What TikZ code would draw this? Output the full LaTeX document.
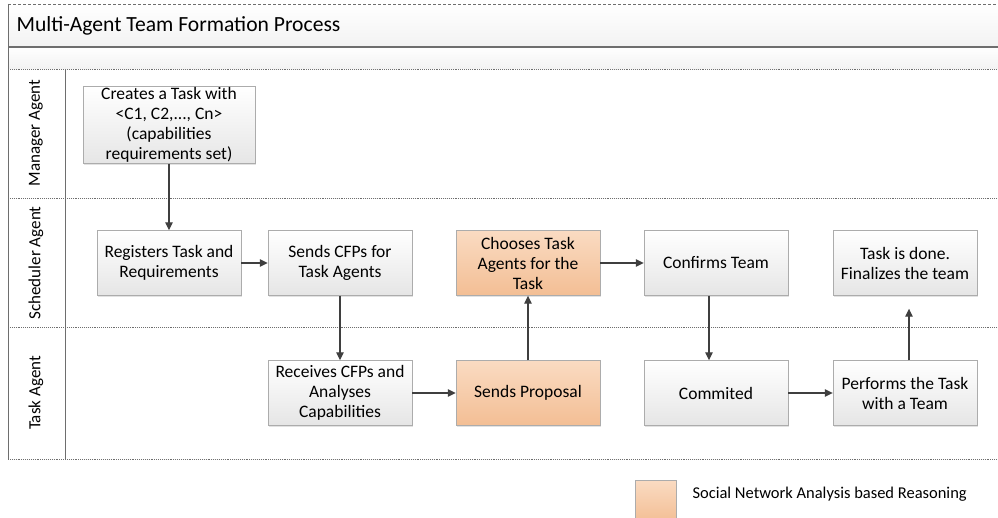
\documentclass[tikz,border=0pt]{standalone}
\usepackage{fontspec}
\setmainfont{Carlito}
\usetikzlibrary{arrows.meta,shadows}
\definecolor{framegray}{HTML}{6E6E6E}
\definecolor{arrowgray}{HTML}{3F3F3F}
\definecolor{snatop}{HTML}{FADBC2}
\definecolor{snabot}{HTML}{F3BE94}
\tikzstyle{box}=[draw=gray!65, top color=white, bottom color=gray!20, minimum width=144pt, minimum height=65pt, align=center, inner sep=1pt, font=\fontsize{17.5}{20}\selectfont, drop shadow={shadow xshift=1pt, shadow yshift=-1.2pt, fill=gray!45}]
\tikzstyle{snabox}=[box, top color=snatop, bottom color=snabot]
\tikzstyle{flow}=[draw=arrowgray, line width=1.2pt, -{Triangle[length=8pt,width=7.5pt]}]
\tikzstyle{lane}=[rotate=90, font=\fontsize{17}{20}\selectfont]

\begin{document}
\begin{tikzpicture}[x=1pt, y=-1pt]
\useasboundingbox (0,0) rectangle (998,518);
% title bands
\shade[top color=white, bottom color=gray!10] (8,4) rectangle (1002,47);
\shade[top color=white, bottom color=gray!10] (8,47) rectangle (1002,69);
\draw[framegray, densely dashed] (8,4) -- (1002,4);
\draw[framegray, line width=1.2pt] (8,47) -- (1002,47);
\foreach \y in {69,198,327,459}
  \draw[framegray, densely dotted, line width=0.9pt] (8,\y) -- (1002,\y);
\draw[framegray, line width=0.9pt] (8,4) -- (8,459);
\draw[framegray, line width=0.9pt] (65,69) -- (65,459);
\node[anchor=west, font=\fontsize{21.6}{24}\selectfont] (title) at (13,26) {Multi-Agent Team Formation Process};

% swimlane labels
\node[lane] (mgr) at (36,133) {Manager Agent};
\node[lane] (sch) at (36,263) {Scheduler Agent};
\node[lane] (agt) at (36,393) {Task Agent};

% activities
\node[box, minimum width=172pt, minimum height=77pt] (create) at (169,125) {Creates a Task with\\<C1, C2,..., Cn>\\(capabilities\\requirements set)};
\node[box] (reg) at (169,263) {Registers Task and\\Requirements};
\node[box] (cfp) at (340,263) {Sends CFPs for\\Task Agents};
\node[snabox] (choose) at (528,263) {Chooses Task\\Agents for the\\Task};
\node[box] (confirm) at (716,263) {Confirms Team};
\node[box] (done) at (905,263) {Task is done.\\Finalizes the team};
\node[box] (recv) at (340,393) {Receives CFPs and\\Analyses\\Capabilities};
\node[snabox] (propose) at (528,393) {Sends Proposal};
\node[box] (commit) at (716,393) {Commited};
\node[box] (perform) at (905,393) {Performs the Task\\with a Team};

% flow
\draw[flow] (create) -- (reg);
\draw[flow] (reg) -- (cfp);
\draw[flow] (cfp) -- (recv);
\draw[flow] (recv) -- (propose);
\draw[flow] (propose) -- (choose);
\draw[flow] (choose) -- (confirm);
\draw[flow] ([xshift=-7pt]confirm.south) -- ([xshift=-7pt]commit.north);
\draw[flow] (commit) -- (perform);
\draw[flow, shorten >=13pt] ([xshift=4pt]perform.north) -- ([xshift=4pt]done.south);

% legend
\node[snabox, minimum width=41pt, minimum height=42pt, anchor=north west] (key) at (635,480) {};
\node[anchor=west, font=\fontsize{16.5}{18}\selectfont] (keytext) at (689,494) {Social Network Analysis based Reasoning};
\end{tikzpicture}
\end{document}
